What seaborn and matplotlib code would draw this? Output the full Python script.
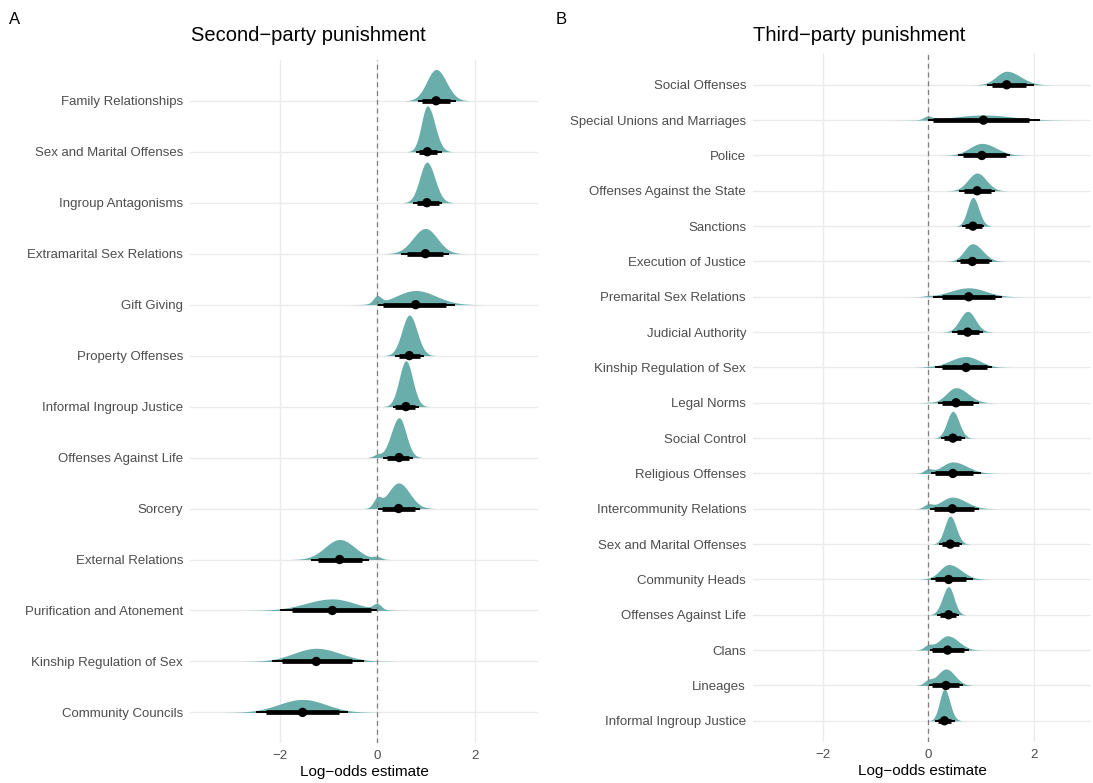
import matplotlib
matplotlib.use("Agg")
import matplotlib.pyplot as plt
import numpy as np
import seaborn as sns

# Panel A: second-party punishment (top to bottom)
a_labels = ["Family Relationships", "Sex and Marital Offenses", "Ingroup Antagonisms",
            "Extramarital Sex Relations", "Gift Giving", "Property Offenses",
            "Informal Ingroup Justice", "Offenses Against Life", "Sorcery",
            "External Relations", "Purification and Atonement",
            "Kinship Regulation of Sex", "Community Councils"]
a_median = [1.21, 1.03, 1.02, 0.99, 0.79, 0.66, 0.59, 0.45, 0.44, -0.77, -0.92, -1.25, -1.53]
a_lo95 = [0.83, 0.79, 0.73, 0.49, 0.01, 0.36, 0.32, 0.13, 0.02, -1.36, -1.99, -2.16, -2.49]
a_hi95 = [1.62, 1.33, 1.34, 1.47, 1.60, 0.97, 0.86, 0.73, 0.88, -0.16, 0.00, -0.28, -0.59]
a_lo66 = [0.92, 0.86, 0.82, 0.61, 0.11, 0.44, 0.37, 0.21, 0.10, -1.22, -1.75, -1.95, -2.28]
a_hi66 = [1.50, 1.22, 1.26, 1.36, 1.41, 0.88, 0.78, 0.66, 0.78, -0.32, -0.12, -0.51, -0.79]
a_spike = [0, 0, 0, 0, 0.09, 0, 0, 0.035, 0.11, 0.03, 0.07, 0, 0]

# Panel B: third-party punishment (top to bottom)
b_labels = ["Social Offenses", "Special Unions and Marriages", "Police",
            "Offenses Against the State", "Sanctions", "Execution of Justice",
            "Premarital Sex Relations", "Judicial Authority", "Kinship Regulation of Sex",
            "Legal Norms", "Social Control", "Religious Offenses",
            "Intercommunity Relations", "Sex and Marital Offenses", "Community Heads",
            "Offenses Against Life", "Clans", "Lineages", "Informal Ingroup Justice"]
b_median = [1.49, 1.05, 1.02, 0.93, 0.85, 0.84, 0.77, 0.75, 0.72, 0.53, 0.47, 0.47,
            0.46, 0.42, 0.39, 0.39, 0.37, 0.34, 0.31]
b_lo95 = [1.11, 0.00, 0.56, 0.59, 0.65, 0.54, 0.09, 0.46, 0.13, 0.18, 0.25, 0.06,
          0.04, 0.21, 0.06, 0.16, 0.03, 0.02, 0.13]
b_hi95 = [2.00, 2.13, 1.56, 1.27, 1.07, 1.22, 1.41, 1.04, 1.22, 0.97, 0.70, 1.00,
          0.97, 0.64, 0.86, 0.59, 0.78, 0.67, 0.51]
b_lo66 = [1.21, 0.10, 0.66, 0.68, 0.70, 0.61, 0.26, 0.54, 0.27, 0.26, 0.30, 0.13,
          0.11, 0.26, 0.13, 0.22, 0.07, 0.08, 0.18]
b_hi66 = [1.86, 1.91, 1.47, 1.19, 1.02, 1.15, 1.27, 0.97, 1.11, 0.85, 0.63, 0.85,
          0.87, 0.58, 0.72, 0.53, 0.69, 0.58, 0.44]
b_spike = [0, 0.09, 0, 0, 0, 0, 0.015, 0, 0.01, 0.01, 0, 0.1, 0.1, 0, 0.01, 0, 0.11, 0.11, 0]

fill = "#6aaeab"
grid_col = "#ebebeb"
txt_col = "#4d4d4d"

sns.set_theme(style="white")
plt.rcParams['font.family'] = ['Liberation Sans', 'DejaVu Sans']


def half_eye(ax, labels, med, lo95, hi95, lo66, hi66, spike, xlim, ylim):
    n = len(labels)
    ypos = np.arange(n)[::-1]
    xs = np.linspace(-4.5, 4.5, 2000)
    dens = []
    for m, l, h, w in zip(med, lo95, hi95, spike):
        sl = (m - l) / 1.96
        sr = (h - m) / 1.96
        sd = np.where(xs < m, sl, sr)
        body = np.exp(-0.5 * ((xs - m) / sd) ** 2) * 2 / (np.sqrt(2 * np.pi) * (sl + sr))
        spk = np.exp(-0.5 * (xs / 0.08) ** 2) / (np.sqrt(2 * np.pi) * 0.08)
        dens.append((1 - w) * body + w * spk)
    scale = 0.9 / max(d.max() for d in dens)

    ax.set_xlim(*xlim)
    ax.set_ylim(*ylim)
    ax.set_xticks([-2, 0, 2])
    ax.set_yticks(ypos)
    ax.set_yticklabels(labels)
    ax.grid(True, color=grid_col, lw=1.0, zorder=0)
    ax.set_axisbelow(True)

    for y, d in zip(ypos, dens):
        mask = d > d.max() * 0.004
        ax.fill_between(xs, y, y + d * scale, where=mask, color=fill, lw=0, zorder=2)

    ax.axvline(0, color="#7f7f7f", lw=0.9, ls=(0, (4, 3)), zorder=3)
    ax.hlines(ypos, lo95, hi95, color="black", lw=1.4, zorder=4)
    ax.hlines(ypos, lo66, hi66, color="black", lw=3.4, zorder=4)
    sns.scatterplot(x=med, y=ypos, ax=ax, color="black", s=45, edgecolor="none",
                    legend=False, zorder=5)

    sns.despine(ax=ax, left=True, bottom=True)
    ax.tick_params(axis="y", length=0, pad=5, labelsize=9.5, labelcolor=txt_col)
    ax.tick_params(axis="x", length=0, pad=5, labelsize=9.5, labelcolor=txt_col)
    ax.set_xlabel("Log\u2212odds estimate", fontsize=11, color="black", labelpad=2)
    ax.set_ylabel("")


W, H = 1093, 783
fig = plt.figure(figsize=(W / 100, H / 100), dpi=100)
axA = fig.add_axes([190 / W, 1 - 743 / H, 348 / W, 683 / H])
axB = fig.add_axes([753 / W, 1 - 742 / H, 338 / W, 689 / H])

half_eye(axA, a_labels, a_median, a_lo95, a_hi95, a_lo66, a_hi66, a_spike,
         (-3.84, 3.30), (-0.6, len(a_labels) - 1 + 0.8))
half_eye(axB, b_labels, b_median, b_lo95, b_hi95, b_lo66, b_hi66, b_spike,
         (-3.32, 3.09), (-0.6, len(b_labels) - 1 + 0.9))

fig.text(191 / W, 1 - 41 / H, "Second\u2212party punishment", fontsize=14.5,
         color="black", va="baseline", ha="left")
fig.text(753 / W, 1 - 41 / H, "Third\u2212party punishment", fontsize=14.5,
         color="black", va="baseline", ha="left")
fig.text(9 / W, 1 - 24 / H, "A", fontsize=12, color="black", va="baseline", ha="left")
fig.text(556 / W, 1 - 24 / H, "B", fontsize=12, color="black", va="baseline", ha="left")

fig.savefig("out.png", dpi=100, facecolor="white")
